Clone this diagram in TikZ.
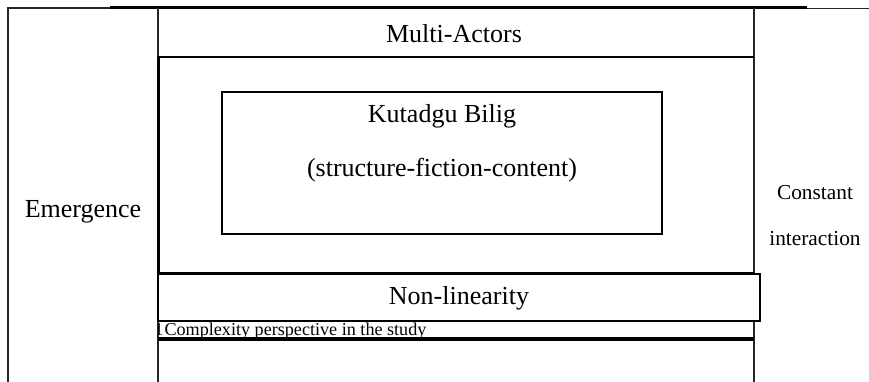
\documentclass[tikz,border=0pt]{standalone}
\usepackage{fontspec}
\setmainfont{Liberation Serif}
\begin{document}
\begin{tikzpicture}[x=0.75pt,y=-0.75pt,
  thinline/.style={line width=0.9pt, draw=black!85},
  midline/.style={line width=1.3pt, draw=black},
  boldline/.style={line width=1.8pt, draw=black},
  heavyline/.style={line width=2.4pt, draw=black},
  bigtext/.style={font=\fontsize{19.5}{23}\selectfont, inner sep=0pt},
  sidetext/.style={font=\fontsize{16}{19}\selectfont, inner sep=0pt},
  notetext/.style={font=\fontsize{13.6}{16}\selectfont, inner sep=0pt, anchor=base west}]
\useasboundingbox (0,0) rectangle (869,382);

% top rule: thin ends, heavier middle part
\draw[thinline] (7,8) -- (110,8);
\draw[boldline] (110,7.5) -- (807,7.5);
\draw[thinline] (807,8.5) -- (869,8.5);

% long vertical frame lines
\draw[thinline] (8,8) -- (8,382);
\draw[thinline] (158,8) -- (158,382);
\draw[thinline] (754,8) -- (754,382);

% main box holding the text
\draw[boldline] (158,57) -- (754,57);
\draw[boldline] (158.5,57) -- (158.5,273);
\draw[midline] (158,273) -- (754,273);

% inner box
\draw[midline] (222,92) rectangle (662,234);

% Non-linearity strip
\draw[midline, fill=white] (158,274) rectangle (760,321);

% heavy rule under the caption
\draw[heavyline] (158,339) -- (754,339);

% texts
\node[bigtext] (multi) at (454,34) {Multi-Actors};
\node[bigtext] (kb) at (442,116) {Kutadgu Bilig};
\node[bigtext] (sfc) at (442,170) {(structure-fiction-content)};
\node[bigtext] (emer) at (83,212) {Emergence};
\node[sidetext, anchor=base] (const) at (815,199) {Constant};
\node[sidetext, anchor=base] (inter) at (815,245) {interaction};
\node[bigtext] (nonlin) at (459,298) {Non-linearity};
\begin{scope}
  \clip (158.6,322) rectangle (754,338);
  \node[notetext] (cap) at (154,335) {1\kern-2.5pt\ Complexity perspective in the study};
\end{scope}
\end{tikzpicture}
\end{document}
